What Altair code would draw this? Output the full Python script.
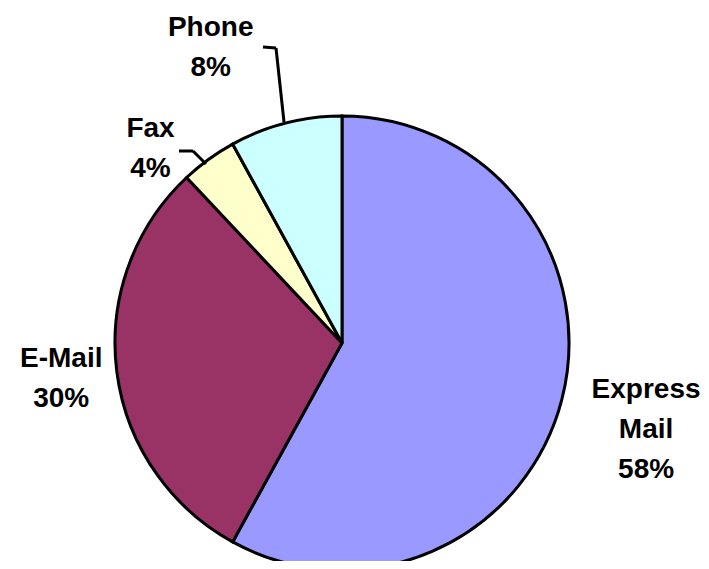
import altair as alt
import pandas as pd

# ---- data ----
categories = ["Express Mail", "E-Mail", "Fax", "Phone"]
shares = [58, 30, 4, 8]
label_lines = [["Express", "Mail", "58%"], ["E-Mail", "30%"], ["Fax", "4%"], ["Phone", "8%"]]
colors = ["#9999FF", "#993366", "#FFFFCC", "#CCFFFF"]

df = pd.DataFrame({
    "category": categories,
    "share": shares,
    "order": list(range(len(categories))),
    "label": ["\n".join(l) for l in label_lines],
})

# ---- layout / style ----
CX, CY, R = 334, 335, 227
LINE_H = 40
# per-label: radius from centre, dx, dy (dy of the block centre)
LABEL_POS = {
    "Express Mail": (316, -2, 8),
    "E-Mail": (283, 0, 1),
    "Fax": (273, -31, 27),
    "Phone": (323, -51, 18),
}
# leader line segments (pixel, chart coordinates)
LEADERS = [
    (255, 39, 268, 40), (268, 40, 276, 114),
    (171, 143, 185, 143), (185, 143, 198, 156),
]

base = alt.Chart(df)

pie = base.mark_arc(outerRadius=R, stroke="black", strokeWidth=3).encode(
    theta=alt.Theta("share:Q", stack=True),
    order=alt.Order("order:Q"),
    color=alt.Color("category:N", scale=alt.Scale(domain=categories, range=colors), legend=None),
    x=alt.value(CX),
    y=alt.value(CY),
)

layers = [pie]

for x1, y1, x2, y2 in LEADERS:
    layers.append(
        alt.Chart(df.head(1)).mark_rule(color="black", strokeWidth=3).encode(
            x=alt.value(x1), y=alt.value(y1), x2=alt.value(x2), y2=alt.value(y2)
        )
    )

for cat, lines in zip(categories, label_lines):
    r, dx, dy = LABEL_POS[cat]
    dy_block = dy - (len(lines) - 1) / 2 * LINE_H
    layers.append(
        base.transform_window(cum="sum(share)", sort=[alt.SortField("order")])
        .transform_calculate(mid="datum.cum - datum.share / 2")
        .transform_filter(alt.datum.category == cat)
        .mark_text(
            radius=r, dx=dx, dy=dy_block, fontSize=28, fontWeight="bold",
            font="Liberation Sans", lineHeight=LINE_H, lineBreak="\n",
            align="center", baseline="middle", color="black",
        )
        .encode(
            theta=alt.Theta("mid:Q", stack=None, scale=alt.Scale(domain=[0, 100])),
            text="label:N",
            x=alt.value(CX),
            y=alt.value(CY),
        )
    )

chart = alt.layer(*layers).properties(
    width=693, height=553,
    autosize=alt.AutoSizeParams(type="none"),
    padding=0,
).configure_view(stroke=None)

chart.save("out.html", embed_options={"renderer": "svg", "actions": False})
